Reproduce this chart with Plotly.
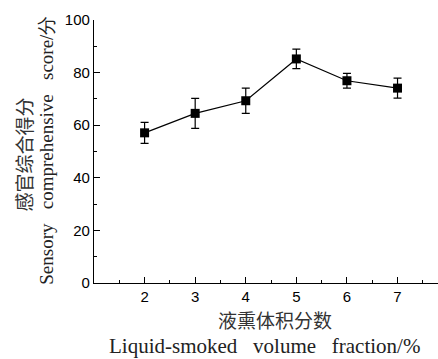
import plotly.graph_objects as go

fraction = [2, 3, 4, 5, 6, 7]
score = [57.1, 64.5, 69.3, 85.2, 76.9, 74.1]
err = [4.0, 5.7, 4.8, 3.7, 2.8, 3.8]
x_ticks = [2, 3, 4, 5, 6, 7]
y_ticks = [0, 20, 40, 60, 80, 100]

fig = go.Figure()
fig.add_trace(go.Scatter(
    x=fraction, y=score, mode="lines+markers",
    line=dict(color="black", width=1.2),
    marker=dict(symbol="square", size=9, color="black"),
    error_y=dict(type="data", array=err, visible=True, color="black", thickness=1.2, width=4),
    showlegend=False,
))

fig.update_layout(
    width=438, height=359,
    margin=dict(l=94, r=0, t=20, b=76),
    paper_bgcolor="white", plot_bgcolor="white",
    font=dict(family="Liberation Sans, Arial", size=15, color="black"),
    xaxis=dict(range=[1.0, 7.8], tickvals=x_ticks, showline=True, linecolor="black", linewidth=1.2,
               ticks="inside", ticklen=6, tickwidth=1.2, tickcolor="black", showgrid=False, zeroline=False,
               minor=dict(dtick=0.5, tick0=1, ticks="inside", ticklen=3, tickwidth=1, tickcolor="black")),
    yaxis=dict(range=[0, 100], tickvals=y_ticks, showline=True, linecolor="black", linewidth=1.2,
               ticks="inside", ticklen=6, tickwidth=1.2, tickcolor="black", showgrid=False, zeroline=False,
               minor=dict(dtick=10, tick0=0, ticks="inside", ticklen=3, tickwidth=1, tickcolor="black")),
)

fig.add_annotation(text="感官综合得分", xref="paper", yref="paper", x=-0.205, y=0.49,
                   xanchor="center", yanchor="middle", textangle=-90, showarrow=False,
                   font=dict(family="Noto Sans CJK SC", size=19, color="#333"))
fig.add_annotation(text="Sensory   comprehensive   score/分", xref="paper", yref="paper", x=-0.138, y=0.505,
                   xanchor="center", yanchor="middle", textangle=-90, showarrow=False,
                   font=dict(family="Liberation Serif", size=19, color="#222"))
fig.add_annotation(text="液熏体积分数", xref="paper", yref="paper", x=0.525, y=-0.14,
                   xanchor="center", yanchor="middle", showarrow=False,
                   font=dict(family="Noto Sans CJK SC", size=19, color="#333"))
fig.add_annotation(text="Liquid-smoked   volume   fraction/%", xref="paper", yref="paper", x=0.495, y=-0.24,
                   xanchor="center", yanchor="middle", showarrow=False,
                   font=dict(family="Liberation Serif", size=21, color="#222"))

fig.write_html("out.html")
